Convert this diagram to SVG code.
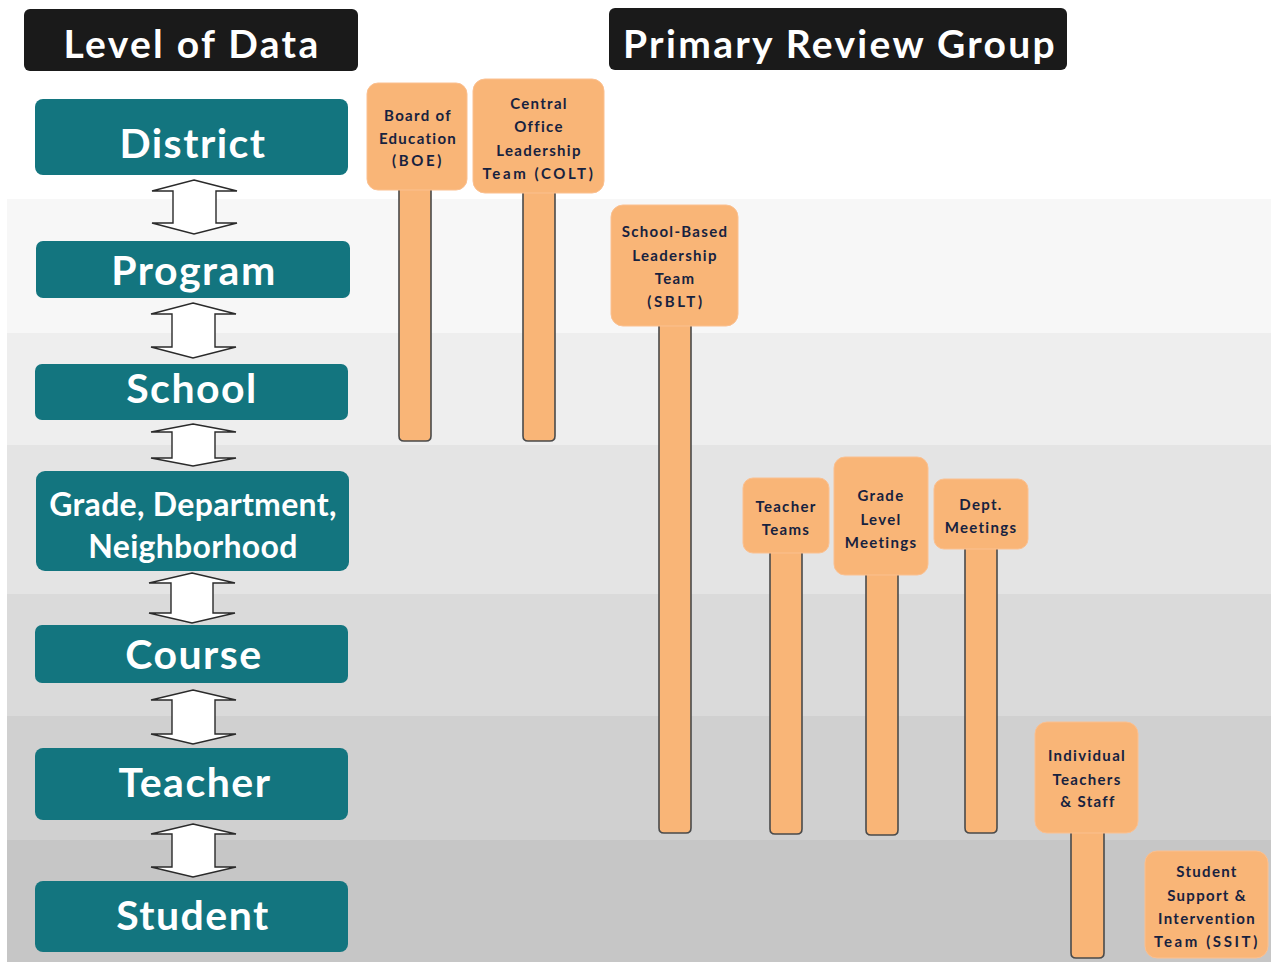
<svg xmlns="http://www.w3.org/2000/svg" width="1271" height="962" viewBox="0 0 1271 962">
<defs>
<style>
.hdr{fill:#1a1a1a}
.hdrt{fill:#fff;font-family:Lato,"Open Sans",sans-serif;font-weight:bold;font-size:39px;letter-spacing:2.3px;text-anchor:middle}
.lvl{fill:#13757f}
.lvlt{fill:#fff;font-family:Lato,"Open Sans",sans-serif;font-weight:bold;font-size:41px;letter-spacing:1.5px;text-anchor:middle}
.lvlt2{fill:#fff;font-family:Lato,"Open Sans",sans-serif;font-weight:bold;font-size:32px;letter-spacing:0.3px;text-anchor:middle}
.arr{fill:#fff;stroke:#2a2a2a;stroke-width:1.4;stroke-linejoin:miter}
.stick{fill:#f9b577;stroke:#4a4a4a;stroke-width:1.6}
.head{fill:#f9b577;stroke:#fbc090;stroke-width:1}
.ot{fill:#17223f;font-family:Lato,"Open Sans",sans-serif;font-weight:bold;font-size:15px;letter-spacing:1.3px;text-anchor:middle}
.ot.c{letter-spacing:2.6px}
</style>
</defs>
<rect width="1271" height="962" fill="#fff"/>
<g id="bands">
<rect x="7" y="199" width="1264" height="134" fill="#f7f7f7"/>
<rect x="7" y="333" width="1264" height="112" fill="#eeeeee"/>
<rect x="7" y="445" width="1264" height="149" fill="#e4e4e4"/>
<rect x="7" y="594" width="1264" height="122" fill="#dadada"/>
<rect x="7" y="716" width="1264" height="124" fill="#d0d0d0"/>
<rect x="7" y="840" width="1264" height="122" fill="#c6c6c6"/>
</g>
<g id="header-level">
<rect class="hdr" x="24" y="9" width="334" height="62" rx="6"/>
<text class="hdrt" x="192" y="58">Level of Data</text>
</g>
<g id="header-review">
<rect class="hdr" x="609" y="8" width="458" height="62" rx="6"/>
<text class="hdrt" x="840" y="58">Primary Review Group</text>
</g>
<g id="district"><rect class="lvl" x="35" y="99" width="313" height="76" rx="8"/><text class="lvlt" x="193" y="158">District</text></g>
<g id="program"><rect class="lvl" x="36" y="241" width="314" height="57" rx="7"/><text class="lvlt" x="194" y="285">Program</text></g>
<g id="school"><rect class="lvl" x="35" y="364" width="313" height="56" rx="7"/><text class="lvlt" x="192" y="403">School</text></g>
<g id="grade"><rect class="lvl" x="36" y="471" width="313" height="100" rx="9"/><text class="lvlt2" x="193" y="516">Grade, Department,</text><text class="lvlt2" x="193" y="558">Neighborhood</text></g>
<g id="course"><rect class="lvl" x="35" y="625" width="313" height="58" rx="7"/><text class="lvlt" x="194" y="669">Course</text></g>
<g id="teacher"><rect class="lvl" x="35" y="748" width="313" height="72" rx="8"/><text class="lvlt" x="195" y="797">Teacher</text></g>
<g id="student"><rect class="lvl" x="35" y="881" width="313" height="71" rx="8"/><text class="lvlt" x="193" y="930">Student</text></g>
<g id="connectors">
<path class="arr" d="M194,180 L237,191 L216,191 L216,223 L237,223 L194,234 L152,223 L173,223 L173,191 L152,191 Z"/>
<path class="arr" d="M193,303 L236,314 L215,314 L215,347 L236,347 L193,358 L151,347 L172,347 L172,314 L151,314 Z"/>
<path class="arr" d="M193,424 L236,432 L215,432 L215,458 L236,458 L193,466 L151,458 L172,458 L172,432 L151,432 Z"/>
<path class="arr" d="M192,573 L235,583 L213,583 L213,613 L235,613 L192,623 L149,613 L171,613 L171,583 L149,583 Z"/>
<path class="arr" d="M193,690 L236,700 L215,700 L215,734 L236,734 L193,744 L151,734 L172,734 L172,700 L151,700 Z"/>
<path class="arr" d="M193,824 L236,834 L215,834 L215,867 L236,867 L193,877 L151,867 L172,867 L172,834 L151,834 Z"/>
</g>
<g id="boe">
<path class="stick" d="M399,180 L399,436 Q399,441 404,441 L426,441 Q431,441 431,436 L431,180"/>
<rect class="head" x="367" y="83" width="100" height="107" rx="11"/>
<text class="ot" x="418" y="121">Board of</text><text class="ot" x="418" y="144">Education</text><text class="ot c" x="418" y="166">(BOE)</text>
</g>
<g id="colt">
<path class="stick" d="M523,185 L523,436 Q523,441 528,441 L550,441 Q555,441 555,436 L555,185"/>
<rect class="head" x="473" y="79" width="131" height="114" rx="12"/>
<text class="ot" x="539" y="109">Central</text><text class="ot" x="539" y="132">Office</text><text class="ot" x="539" y="156">Leadership</text><text class="ot c" x="539" y="179">Team (COLT)</text>
</g>
<g id="sblt">
<path class="stick" d="M659,318 L659,828 Q659,833 664,833 L686,833 Q691,833 691,828 L691,318"/>
<rect class="head" x="611" y="205" width="127" height="121" rx="12"/>
<text class="ot" x="675" y="237">School-Based</text><text class="ot" x="675" y="261">Leadership</text><text class="ot" x="675" y="284">Team</text><text class="ot c" x="676" y="307">(SBLT)</text>
</g>
<g id="teacher-teams">
<path class="stick" d="M770,545 L770,829 Q770,834 775,834 L797,834 Q802,834 802,829 L802,545"/>
<rect class="head" x="743" y="478" width="86" height="75" rx="10"/>
<text class="ot" x="786" y="512">Teacher</text><text class="ot" x="786" y="535">Teams</text>
</g>
<g id="grade-level">
<path class="stick" d="M866,567 L866,830 Q866,835 871,835 L893,835 Q898,835 898,830 L898,567"/>
<rect class="head" x="834" y="457" width="94" height="118" rx="11"/>
<text class="ot" x="881" y="501">Grade</text><text class="ot" x="881" y="525">Level</text><text class="ot" x="881" y="548">Meetings</text>
</g>
<g id="dept">
<path class="stick" d="M965,541 L965,828 Q965,833 970,833 L992,833 Q997,833 997,828 L997,541"/>
<rect class="head" x="934" y="479" width="94" height="70" rx="10"/>
<text class="ot" x="981" y="510">Dept.</text><text class="ot" x="981" y="533">Meetings</text>
</g>
<g id="individual">
<path class="stick" d="M1071,825 L1071,953 Q1071,958 1076,958 L1099,958 Q1104,958 1104,953 L1104,825"/>
<rect class="head" x="1035" y="722" width="103" height="111" rx="12"/>
<text class="ot" x="1087" y="761">Individual</text><text class="ot" x="1087" y="785">Teachers</text><text class="ot" x="1088" y="807">&amp; Staff</text>
</g>
<g id="ssit">
<rect class="head" x="1145" y="851" width="123" height="107" rx="12"/>
<text class="ot" x="1207" y="877">Student</text><text class="ot" x="1207" y="901">Support &amp;</text><text class="ot" x="1207" y="924">Intervention</text><text class="ot c" x="1207" y="947">Team (SSIT)</text>
</g>
</svg>
